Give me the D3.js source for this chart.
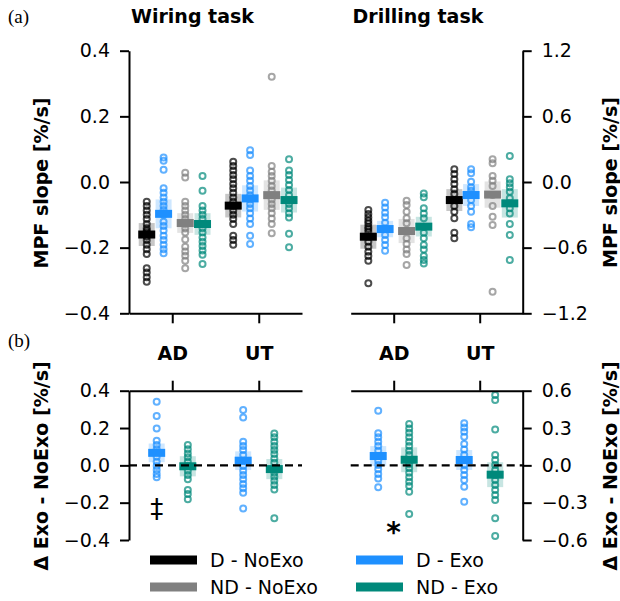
<!DOCTYPE html>
<html><head><meta charset="utf-8">
<script src="https://cdn.jsdelivr.net/npm/d3@7"></script>
<style>
body{margin:0;background:#fff;}
svg text{font-family:"DejaVu Sans",sans-serif;}
</style></head>
<body><svg id="c" width="620" height="601"></svg>
<script>
// ---------- DATA ----------
const groups = ["AD", "UT"];
const seriesNames = ["D - NoExo", "D - Exo", "ND - NoExo", "ND - Exo"];
const seriesColors = ["#000000", "#1e90ff", "#808080", "#00897b"];

const wiringTicks = [-0.4, -0.2, 0.0, 0.2, 0.4];
const drillingTicks = [-1.2, -0.6, 0.0, 0.6, 1.2];
const deltaWiringTicks = [-0.4, -0.2, 0.0, 0.2, 0.4];
const deltaDrillingTicks = [-0.6, -0.3, 0.0, 0.3, 0.6];

// Wiring task, MPF slope
const wiring_AD_DNoExo = [-0.06,-0.073,-0.087,-0.1,-0.113,-0.128,-0.141,-0.148,-0.154,-0.166,-0.177,-0.191,-0.205,-0.219,-0.263,-0.276,-0.29,-0.304];
const wiring_AD_DExo = [0.075,0.065,0.037,-0.019,-0.033,-0.047,-0.06,-0.073,-0.085,-0.1,-0.121,-0.134,-0.148,-0.164,-0.177,-0.191,-0.205,-0.217];
const wiring_AD_NDNoExo = [0.028,0.014,-0.06,-0.073,-0.087,-0.1,-0.113,-0.128,-0.141,-0.154,-0.175,-0.197,-0.212,-0.225,-0.24,-0.263];
const wiring_AD_NDExo = [0.018,-0.027,-0.073,-0.087,-0.1,-0.113,-0.128,-0.141,-0.154,-0.169,-0.182,-0.195,-0.209,-0.222,-0.25];
const wiring_UT_DNoExo = [0.062,0.049,0.035,0.021,0.008,-0.006,-0.019,-0.033,-0.047,-0.06,-0.073,-0.087,-0.1,-0.113,-0.128,-0.164,-0.177,-0.191];
const wiring_UT_DExo = [0.097,0.082,0.035,0.018,0.004,-0.012,-0.026,-0.04,-0.053,-0.067,-0.08,-0.095,-0.111,-0.128,-0.164,-0.189];
const wiring_UT_NDNoExo = [0.321,0.049,0.031,0.018,0.004,-0.012,-0.026,-0.04,-0.053,-0.067,-0.08,-0.095,-0.111,-0.128,-0.156];
const wiring_UT_NDExo = [0.069,0.035,0.021,0.006,-0.009,-0.024,-0.04,-0.055,-0.067,-0.08,-0.095,-0.108,-0.158,-0.199];
const wiringMeans_AD = [-0.16, -0.097, -0.125, -0.128];
const wiringMeans_UT = [-0.072, -0.05, -0.04, -0.055];
const wiringCI_AD = [0.035, 0.044, 0.03, 0.033];
const wiringCI_UT = [0.036, 0.04, 0.045, 0.038];

// Drilling task, MPF slope
const drilling_AD_DNoExo = [-0.256,-0.293,-0.324,-0.354,-0.38,-0.408,-0.43,-0.454,-0.5,-0.545,-0.591,-0.637,-0.676,-0.719,-0.926];
const drilling_AD_DExo = [-0.189,-0.232,-0.28,-0.323,-0.372,-0.424,-0.485,-0.53,-0.576,-0.628];
const drilling_AD_NDNoExo = [-0.171,-0.21,-0.271,-0.332,-0.378,-0.445,-0.515,-0.567,-0.616,-0.658,-0.759];
const drilling_AD_NDExo = [-0.104,-0.14,-0.241,-0.287,-0.332,-0.408,-0.463,-0.515,-0.576,-0.616,-0.676,-0.713,-0.744];
const drilling_UT_DNoExo = [0.116,0.073,0.024,-0.018,-0.067,-0.11,-0.165,-0.219,-0.271,-0.332,-0.463,-0.515];
const drilling_UT_DExo = [0.116,0.079,0.003,-0.049,-0.079,-0.119,-0.165,-0.219,-0.271,-0.384,-0.414];
const drilling_UT_NDNoExo = [0.207,0.171,0.055,0.012,-0.037,-0.119,-0.219,-0.317,-0.393,-1.002];
const drilling_UT_NDExo = [0.238,0.024,-0.012,-0.049,-0.088,-0.149,-0.195,-0.241,-0.287,-0.384,-0.485,-0.713];
const drillingMeans_AD = [-0.5, -0.43, -0.448, -0.408];
const drillingMeans_UT = [-0.165, -0.119, -0.115, -0.195];
const drillingCI_AD = [0.11, 0.075, 0.11, 0.09];
const drillingCI_UT = [0.1, 0.1, 0.12, 0.13];

// Delta Exo - NoExo
const deltaWiring_AD_DExo = [0.341,0.264,0.198,0.132,0.109,0.086,0.046,0.019,-0.004,-0.025,-0.047,-0.064];
const deltaWiring_AD_NDExo = [0.109,0.086,0.064,0.043,0.019,-0.004,-0.029,-0.052,-0.075,-0.132,-0.154,-0.182];
const deltaWiring_UT_DExo = [0.296,0.257,0.127,0.104,0.082,0.055,0.025,-0.004,-0.029,-0.052,-0.075,-0.1,-0.123,-0.147,-0.231];
const deltaWiring_UT_NDExo = [0.171,0.15,0.127,0.104,0.082,0.061,0.037,0.014,-0.016,-0.04,-0.061,-0.082,-0.105,-0.129,-0.284];
const deltaWiringMeans_AD = [0.067, -0.005];
const deltaWiringMeans_UT = [0.025, -0.02];
const deltaWiringCI_AD = [0.05, 0.054];
const deltaWiringCI_UT = [0.05, 0.054];

const deltaDrilling_AD_DExo = [0.439,0.257,0.225,0.19,0.155,0.118,0.075,0.037,0.002,-0.032,-0.07,-0.105,-0.177];
const deltaDrilling_AD_NDExo = [0.332,0.297,0.262,0.225,0.19,0.155,0.118,0.083,0.043,0.01,-0.024,-0.059,-0.096,-0.132,-0.166,-0.212,-0.391];
const deltaDrilling_UT_DExo = [0.338,0.305,0.27,0.23,0.171,0.128,0.083,0.043,0.002,-0.038,-0.078,-0.118,-0.172,-0.293];
const deltaDrilling_UT_NDExo = [0.565,0.525,0.289,0.083,0.043,0.002,-0.038,-0.078,-0.118,-0.158,-0.198,-0.239,-0.279,-0.426,-0.568];
const deltaDrillingMeans_AD = [0.075, 0.045];
const deltaDrillingMeans_UT = [0.043, -0.075];
const deltaDrillingCI_AD = [0.08, 0.1];
const deltaDrillingCI_UT = [0.08, 0.1];

// ---------- DRAW ----------
const svg = d3.select("#c");
const FS = 19;
const topOffsets = [-0.295, -0.1, 0.15, 0.35];
const deltaOffsets = [-0.18, 0.18];
const deltaSeries = [1, 3]; // D - Exo, ND - Exo

function panel(opts) {
  const x = d3.scaleLinear().domain([-0.5, 1.5]).range([opts.x0, opts.x1]);
  const y = d3.scaleLinear().domain(opts.ydom).range([opts.yb, opts.yt]);
  const g = svg.append("g");
  const bw = 17, bh = 8, sw = 16;
  opts.groupsData.forEach((gd, gi) => {
    gd.series.forEach((vals, si) => {
      const cx = x(gi + opts.offsets[si]);
      const col = seriesColors[opts.seriesIdx[si]];
      const m = gd.means[si], ci = gd.ci[si];
      g.append("rect").attr("x", cx - sw / 2).attr("width", sw)
        .attr("y", y(m + ci)).attr("height", y(m - ci) - y(m + ci))
        .attr("fill", col).attr("opacity", 0.22);
      g.selectAll(null).data(vals).join("circle")
        .attr("cx", cx).attr("cy", d => y(d)).attr("r", 3.0)
        .attr("fill", "none").attr("stroke", col).attr("stroke-width", 2.0)
        .attr("opacity", 0.7);
    });
    gd.series.forEach((vals, si) => {
      const cx = x(gi + opts.offsets[si]);
      const col = seriesColors[opts.seriesIdx[si]];
      g.append("rect").attr("x", cx - bw / 2).attr("width", bw)
        .attr("y", y(gd.means[si]) - bh / 2).attr("height", bh)
        .attr("fill", col);
    });
  });
  // y axis
  const yAx = (opts.right ? d3.axisRight(y) : d3.axisLeft(y))
    .tickValues(opts.ticks).tickFormat(d3.format(".1f"))
    .tickSize(9).tickSizeOuter(0).tickPadding(10);
  const ya = svg.append("g").attr("transform", `translate(${opts.right ? opts.x1 : opts.x0},0)`).call(yAx);
  // x axis
  const xAx = (opts.topAxis ? d3.axisTop(x) : d3.axisBottom(x))
    .tickValues([0, 1]).tickFormat((d, i) => opts.topAxis ? groups[i] : "")
    .tickSize(10).tickSizeOuter(0).tickPadding(opts.topAxis ? 21 : 3);
  const xa = svg.append("g").attr("transform", `translate(0,${opts.topAxis ? opts.yt : opts.yb})`).call(xAx);
  [ya, xa].forEach(a => {
    a.select(".domain").attr("stroke-width", 2).attr("stroke", "#000");
    a.selectAll(".tick line").attr("stroke-width", 2).attr("stroke", "#000");
    a.selectAll("text").attr("font-size", FS).attr("font-family", "DejaVu Sans").attr("fill", "#000");
  });
  xa.selectAll("text").attr("font-weight", "bold");
  if (opts.dashed) {
    g.append("line").attr("x1", opts.x0).attr("x2", opts.x1)
      .attr("y1", y(0)).attr("y2", y(0)).attr("stroke", "#000")
      .attr("stroke-width", 2.2).attr("stroke-dasharray", "8,5");
  }
  return { x, y };
}

const L0 = 129, L1 = 302, R0 = 350.7, R1 = 522.7;
const T_t = 50.7, T_b = 313.3, B_t = 390.7, B_b = 540;

panel({ x0: L0, x1: L1, yt: T_t, yb: T_b, ydom: [-0.4, 0.4], ticks: wiringTicks,
  offsets: topOffsets, seriesIdx: [0, 1, 2, 3],
  groupsData: [
    { series: [wiring_AD_DNoExo, wiring_AD_DExo, wiring_AD_NDNoExo, wiring_AD_NDExo], means: wiringMeans_AD, ci: wiringCI_AD },
    { series: [wiring_UT_DNoExo, wiring_UT_DExo, wiring_UT_NDNoExo, wiring_UT_NDExo], means: wiringMeans_UT, ci: wiringCI_UT }] });

panel({ x0: R0, x1: R1, yt: T_t, yb: T_b, ydom: [-1.2, 1.2], ticks: drillingTicks, right: true,
  offsets: topOffsets, seriesIdx: [0, 1, 2, 3],
  groupsData: [
    { series: [drilling_AD_DNoExo, drilling_AD_DExo, drilling_AD_NDNoExo, drilling_AD_NDExo], means: drillingMeans_AD, ci: drillingCI_AD },
    { series: [drilling_UT_DNoExo, drilling_UT_DExo, drilling_UT_NDNoExo, drilling_UT_NDExo], means: drillingMeans_UT, ci: drillingCI_UT }] });

const pBL = panel({ x0: L0, x1: L1, yt: B_t, yb: B_b, ydom: [-0.4, 0.4], ticks: deltaWiringTicks,
  offsets: deltaOffsets, seriesIdx: deltaSeries, topAxis: true, dashed: true,
  groupsData: [
    { series: [deltaWiring_AD_DExo, deltaWiring_AD_NDExo], means: deltaWiringMeans_AD, ci: deltaWiringCI_AD },
    { series: [deltaWiring_UT_DExo, deltaWiring_UT_NDExo], means: deltaWiringMeans_UT, ci: deltaWiringCI_UT }] });

const pBR = panel({ x0: R0, x1: R1, yt: B_t, yb: B_b, ydom: [-0.6, 0.6], ticks: deltaDrillingTicks, right: true,
  offsets: deltaOffsets, seriesIdx: deltaSeries, topAxis: true, dashed: true,
  groupsData: [
    { series: [deltaDrilling_AD_DExo, deltaDrilling_AD_NDExo], means: deltaDrillingMeans_AD, ci: deltaDrillingCI_AD },
    { series: [deltaDrilling_UT_DExo, deltaDrilling_UT_NDExo], means: deltaDrillingMeans_UT, ci: deltaDrillingCI_UT }] });

// significance marks
svg.append("text").attr("x", pBL.x(-0.18)).attr("y", pBL.y(-0.28)).attr("text-anchor", "middle")
  .attr("font-size", 26).text("‡");
svg.append("text").attr("x", pBR.x(0)).attr("y", pBR.y(-0.62)).attr("text-anchor", "middle")
  .attr("font-size", 28).attr("font-weight", "bold").text("*");

// titles
svg.append("text").attr("x", 192.5).attr("y", 23).attr("text-anchor", "middle")
  .attr("font-size", FS).attr("font-weight", "bold").text("Wiring task");
svg.append("text").attr("x", 418).attr("y", 23).attr("text-anchor", "middle")
  .attr("font-size", FS).attr("font-weight", "bold").text("Drilling task");
svg.append("text").attr("x", 8).attr("y", 23)
  .style("font-family", "'Liberation Serif',serif").attr("font-size", 19).text("(a)");
svg.append("text").attr("x", 8).attr("y", 347)
  .style("font-family", "'Liberation Serif',serif").attr("font-size", 19).text("(b)");

// y labels
function ylab(x, y, t) {
  svg.append("text").attr("transform", `translate(${x},${y}) rotate(-90)`)
    .attr("text-anchor", "middle").attr("dominant-baseline", "central")
    .attr("font-size", FS).attr("font-weight", "bold").text(t);
}
ylab(40.5, 183, "MPF slope [%/s]");
ylab(610, 182.5, "MPF slope [%/s]");
ylab(40.5, 466, "Δ Exo - NoExo [%/s]");
ylab(610, 466, "Δ Exo - NoExo [%/s]");

// legend
const legPos = [[150, 560], [356, 560], [150, 587], [356, 587]];
seriesNames.forEach((n, i) => {
  const [lx, ly] = legPos[i];
  svg.append("line").attr("x1", lx).attr("x2", lx + 47).attr("y1", ly).attr("y2", ly)
    .attr("stroke", seriesColors[i]).attr("stroke-width", 9);
  svg.append("text").attr("x", lx + 60).attr("y", ly + 6.5).attr("font-size", FS).text(n);
});
</script></body></html>
